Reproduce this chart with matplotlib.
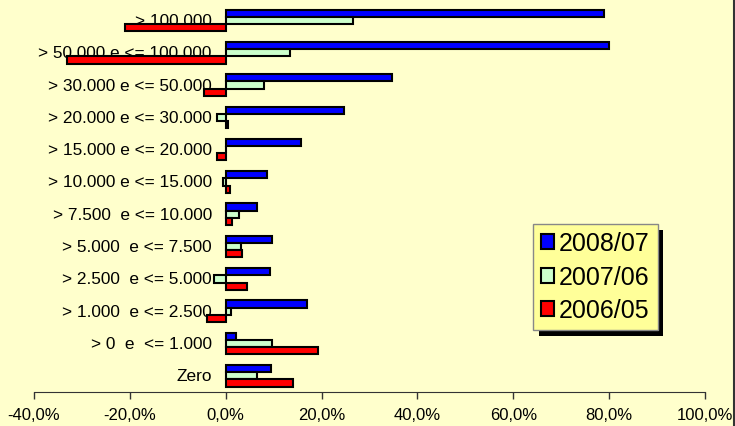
import matplotlib
matplotlib.use("Agg")
import matplotlib.pyplot as plt
import matplotlib.patheffects as pe
from matplotlib.patches import Patch
import numpy as np

plt.rcParams['font.family'] = ['Liberation Sans', 'DejaVu Sans']

categories = ["Zero", "> 0  e  <= 1.000", "> 1.000  e <= 2.500", "> 2.500  e <= 5.000",
              "> 5.000  e <= 7.500", "> 7.500  e <= 10.000", "> 10.000 e <= 15.000",
              "> 15.000 e <= 20.000", "> 20.000 e <= 30.000", "> 30.000 e <= 50.000",
              "> 50.000 e <= 100.000", "> 100.000"]
s2008 = [9.5, 2.2, 17.0, 9.3, 9.7, 6.6, 8.6, 15.8, 24.6, 34.7, 80.0, 79.0]
s2007 = [6.5, 9.7, 1.0, -2.4, 3.1, 2.8, -0.6, 0.0, -1.9, 7.9, 13.4, 26.6]
s2006 = [14.1, 19.3, -3.9, 4.5, 3.5, 1.3, 0.9, -1.8, 0.4, -4.6, -33.1, -21.0]
series_names = ["2008/07", "2007/06", "2006/05"]
colors = ["#0000FF", "#CCFFCC", "#FF0000"]
xticks = [-40, -20, 0, 20, 40, 60, 80, 100]

bg = "#FFFFCC"
fig = plt.figure(figsize=(7.35, 4.27), dpi=100, facecolor=bg)
ax = fig.add_axes([34/735, (427-393)/427, (705-34)/735, (393-5.3)/427])
ax.set_facecolor(bg)

y = np.arange(len(categories))
h = 0.223
for i, (vals, c) in enumerate(zip([s2008, s2007, s2006], colors)):
    ax.barh(y + (1 - i) * h, vals, height=h, color=c, edgecolor="black",
            linewidth=1.5, zorder=3, label=series_names[i])

ax.set_xlim(-40, 100)
ax.set_ylim(-0.5, len(categories) - 0.5)
ax.set_xticks(xticks)
ax.set_xticklabels([f"{v:.1f}%".replace(".", ",") for v in xticks], fontsize=12)
ax.tick_params(axis='x', direction='out', length=5, width=1, color="#333333", pad=6)
ax.set_yticks([])
for s in ["top", "right", "left"]:
    ax.spines[s].set_visible(False)
ax.spines["bottom"].set_color("#333333")

for yi, lab in zip(y, categories):
    ax.annotate(lab, xy=(0, yi), xytext=(-10, 0), textcoords="offset points",
                ha="right", va="center", fontsize=12.4, zorder=2)

handles = [Patch(facecolor=c, edgecolor="black", linewidth=1.5) for c in colors]
leg = ax.legend(handles, series_names, loc="upper left",
                bbox_to_anchor=((533-34)/671, (393-225)/387.7),
                fontsize=18, frameon=True, fancybox=False, shadow=False,
                handlelength=0.55, handleheight=0.55, handletextpad=0.2,
                borderpad=0.3, labelspacing=0.38, borderaxespad=0)
leg.get_frame().set_facecolor("#FFFF99")
leg.get_frame().set_edgecolor("#888888")
leg.get_frame().set_alpha(1)
leg.get_frame().set_path_effects([pe.SimplePatchShadow(offset=(4, -4), shadow_rgbFace="black", alpha=1), pe.Normal()])

fig.add_artist(plt.Line2D([733.5/735, 733.5/735], [0, 1], transform=fig.transFigure,
                          color="#333333", linewidth=1.5))

fig.savefig("out.png", dpi=100, facecolor=bg)
